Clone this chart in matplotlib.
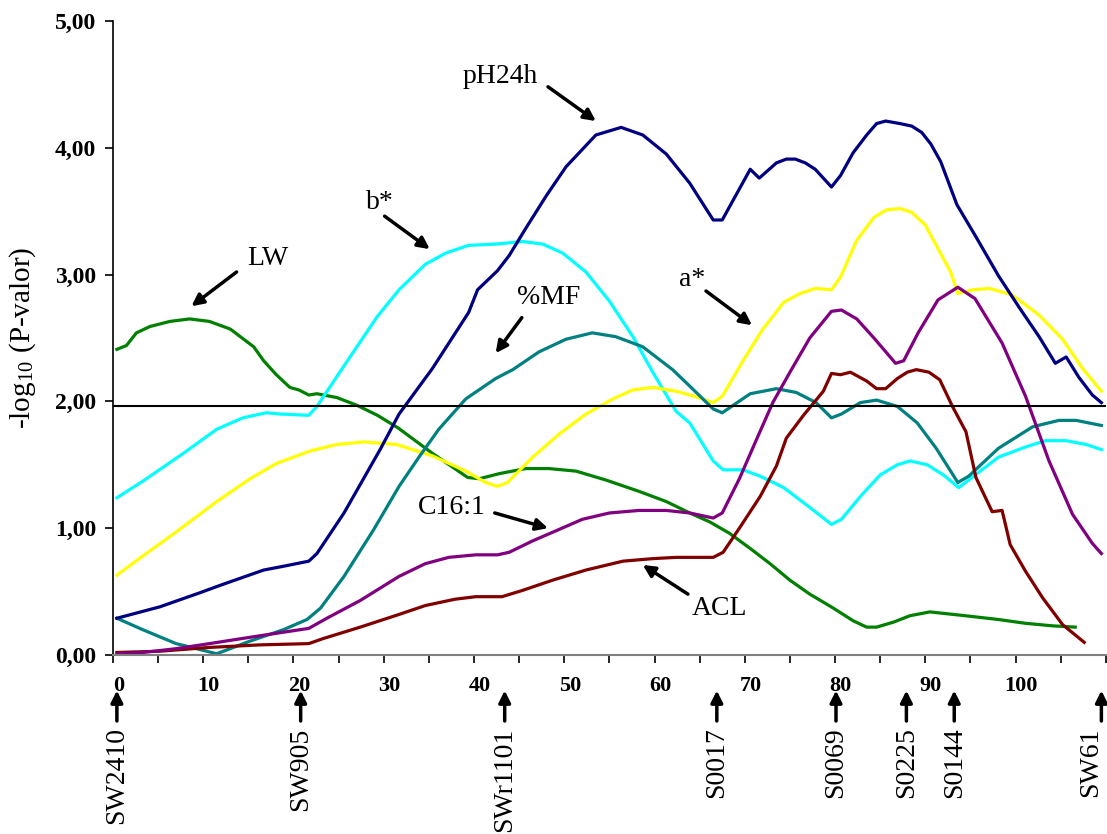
#!/usr/bin/env python3
# QTL profiles along the chromosome: -log10(P) for each trait vs position (cM)

import matplotlib.pyplot as plt
from matplotlib.ticker import MultipleLocator, FuncFormatter
from matplotlib.transforms import ScaledTranslation

plt.rcParams['font.family'] = 'Liberation Serif'
plt.rcParams['mathtext.fontset'] = 'stix'

# Trait profiles: position [cM], -log10(P)
ph24h_x = [0.44, 5.2, 9.6, 11.9, 16.7, 18.9, 21.7, 22.6, 25.6, 29.6, 31.7, 35.4, 39.4, 40.4,
           42.6, 43.9, 45.7, 48.0, 50.2, 53.5, 56.3, 58.7, 61.3, 63.9, 66.5, 67.5, 70.6,
           71.6, 73.5, 74.6, 75.6, 76.7, 77.8, 79.6, 80.6, 82.0, 83.5, 84.6, 85.6, 87.2,
           88.5, 89.6, 90.6, 91.7, 93.5, 95.5, 98.1, 100.4, 102.6, 104.4, 105.6, 107.0,
           108.5, 109.5]
ph24h_y = [0.29, 0.38, 0.49, 0.55, 0.67, 0.70, 0.74, 0.80, 1.12, 1.62, 1.90, 2.26, 2.70, 2.88,
           3.03, 3.15, 3.36, 3.62, 3.85, 4.10, 4.16, 4.10, 3.95, 3.72, 3.43, 3.43, 3.83,
           3.76, 3.88, 3.91, 3.91, 3.88, 3.83, 3.69, 3.78, 3.96, 4.10, 4.19, 4.21, 4.19,
           4.17, 4.12, 4.03, 3.89, 3.55, 3.31, 2.99, 2.74, 2.51, 2.30, 2.35, 2.19,
           2.05, 1.99]

bstar_x = [0.44, 3.3, 7.8, 11.5, 14.4, 17.0, 18.5, 21.7, 22.6, 25.6, 29.3, 31.7, 34.6, 36.9,
           39.4, 42.4, 45.4, 47.6, 49.8, 52.4, 55.0, 57.6, 59.8, 62.4, 63.9, 66.5, 67.6,
           69.8, 71.7, 74.3, 76.9, 79.6, 80.7, 82.8, 85.0, 86.9, 88.3, 90.2, 92.0, 93.7,
           94.8, 98.1, 101.1, 103.3, 105.6, 107.8, 109.5]
bstar_y = [1.24, 1.37, 1.59, 1.78, 1.87, 1.91, 1.90, 1.89, 1.96, 2.28, 2.67, 2.88, 3.08, 3.17,
           3.23, 3.24, 3.26, 3.24, 3.17, 3.02, 2.79, 2.51, 2.23, 1.92, 1.83, 1.53, 1.46,
           1.46, 1.41, 1.32, 1.18, 1.03, 1.07, 1.25, 1.42, 1.50, 1.53, 1.50, 1.42, 1.32,
           1.38, 1.56, 1.64, 1.69, 1.69, 1.66, 1.62]

lw_x = [0.44, 1.5, 2.6, 4.1, 6.3, 8.5, 10.7, 13.0, 15.6, 16.7, 18.1, 19.6, 20.6, 21.7, 22.6,
        24.8, 27.0, 29.3, 31.6, 35.4, 39.3, 40.6, 42.8, 45.7, 48.3, 51.3, 54.6, 58.3, 61.3,
        63.9, 66.1, 68.3, 70.6, 72.8, 75.0, 77.2, 79.8, 82.0, 83.5, 84.6, 86.5, 88.3, 90.5,
        94.4, 98.1, 101.1, 104.1, 106.6]
lw_y = [2.41, 2.44, 2.54, 2.59, 2.63, 2.65, 2.63, 2.57, 2.43, 2.32, 2.21, 2.11, 2.09, 2.05, 2.06,
        2.03, 1.97, 1.89, 1.79, 1.59, 1.40, 1.39, 1.43, 1.47, 1.47, 1.45, 1.38, 1.29, 1.21,
        1.12, 1.05, 0.96, 0.84, 0.72, 0.59, 0.48, 0.37, 0.27, 0.22, 0.22, 0.26, 0.31, 0.34,
        0.31, 0.28, 0.25, 0.23, 0.22]

mf_x = [0.44, 3.3, 7.0, 11.5, 15.2, 18.9, 21.5, 23.0, 25.6, 28.9, 31.7, 33.9, 36.1, 39.1, 42.4,
        44.3, 47.2, 50.2, 53.1, 55.7, 58.7, 62.0, 63.9, 66.5, 67.5, 70.6, 73.5, 75.7, 77.9,
        79.6, 80.7, 82.8, 84.6, 86.9, 89.1, 91.2, 93.6, 94.8, 98.1, 101.9, 104.8, 106.7, 109.5]
mf_y = [0.29, 0.20, 0.09, 0.01, 0.11, 0.20, 0.28, 0.37, 0.62, 0.99, 1.33, 1.56, 1.78, 2.02, 2.18,
        2.25, 2.39, 2.49, 2.54, 2.51, 2.43, 2.25, 2.12, 1.94, 1.91, 2.06, 2.10, 2.07, 1.99,
        1.87, 1.90, 1.99, 2.01, 1.96, 1.83, 1.63, 1.36, 1.41, 1.63, 1.80, 1.85, 1.85, 1.81]

astar_x = [0.44, 3.3, 7.0, 11.5, 15.2, 18.1, 21.9, 24.8, 27.8, 31.4, 35.4, 39.1, 41.3, 42.6,
           43.7, 46.5, 49.4, 52.4, 55.4, 57.6, 59.8, 62.4, 64.4, 66.5, 67.5, 69.8, 72.0,
           74.3, 76.1, 77.8, 79.6, 80.6, 82.4, 84.3, 85.7, 87.2, 88.5, 90.0, 91.5, 92.8,
           93.6, 95.3, 97.1, 99.6, 102.6, 105.2, 107.4, 109.5]
astar_y = [0.63, 0.78, 0.97, 1.21, 1.39, 1.51, 1.61, 1.66, 1.68, 1.66, 1.57, 1.45, 1.36, 1.33,
           1.36, 1.56, 1.74, 1.90, 2.02, 2.09, 2.11, 2.08, 2.04, 1.99, 2.04, 2.32, 2.57,
           2.78, 2.85, 2.89, 2.88, 2.98, 3.27, 3.45, 3.51, 3.52, 3.49, 3.39, 3.19, 3.02,
           2.85, 2.88, 2.89, 2.84, 2.68, 2.49, 2.26, 2.08]

c161_x = [0.44, 3.3, 7.0, 10.7, 15.2, 18.9, 21.7, 23.7, 27.4, 31.7, 34.6, 37.2, 40.2, 42.6,
          43.9, 46.5, 49.1, 52.0, 55.0, 58.3, 61.3, 63.9, 66.5, 67.5, 69.4, 71.3, 73.1,
          75.0, 77.2, 79.6, 80.7, 82.4, 84.3, 86.7, 87.6, 89.2, 91.4, 93.6, 95.5, 98.5,
          101.1, 103.7, 106.3, 108.5, 109.5]
c161_y = [0.01, 0.02, 0.05, 0.09, 0.14, 0.18, 0.21, 0.29, 0.43, 0.62, 0.72, 0.77, 0.79, 0.79,
          0.81, 0.90, 0.98, 1.07, 1.12, 1.14, 1.14, 1.12, 1.08, 1.12, 1.39, 1.70, 1.99,
          2.23, 2.50, 2.71, 2.72, 2.65, 2.50, 2.30, 2.32, 2.54, 2.80, 2.90, 2.81, 2.46,
          2.04, 1.53, 1.11, 0.88, 0.80]

acl_x = [0.44, 5.2, 10.7, 16.3, 21.7, 23.3, 27.4, 31.7, 34.6, 37.9, 40.2, 43.1, 45.4, 48.7,
         52.4, 56.5, 59.8, 62.4, 66.5, 67.6, 69.4, 71.7, 73.5, 74.6, 76.5, 78.7, 79.6,
         80.6, 81.7, 83.5, 84.6, 85.6, 86.9, 88.0, 89.0, 90.4, 91.6, 93.0, 94.5, 95.6,
         97.4, 98.5, 99.4, 101.1, 103.0, 105.2, 107.6]
acl_y = [0.02, 0.03, 0.06, 0.08, 0.09, 0.13, 0.22, 0.32, 0.39, 0.44, 0.46, 0.46, 0.51, 0.59,
         0.67, 0.74, 0.76, 0.77, 0.77, 0.81, 1.00, 1.25, 1.49, 1.71, 1.89, 2.08, 2.22,
         2.21, 2.23, 2.16, 2.10, 2.10, 2.18, 2.23, 2.25, 2.23, 2.17, 1.96, 1.76, 1.40,
         1.13, 1.14, 0.87, 0.66, 0.45, 0.24, 0.10]

threshold = 1.96

# Marker positions along the chromosome
markers = ["SW2410", "SW905", "SWr1101", "S0017", "S0069", "S0225", "S0144", "SW61"]
marker_pos = [0.44, 20.8, 43.4, 66.9, 80.1, 87.9, 93.2, 109.5]

fig = plt.figure(figsize=(11.07, 8.34), dpi=100)
ax = fig.add_axes([0.102, 0.2146, 0.897, 0.7604])

ax.plot(lw_x, lw_y, color='#008000', lw=2.3)
ax.plot(bstar_x, bstar_y, color='#00FFFF', lw=2.3)
ax.plot(astar_x, astar_y, color='#FFFF00', lw=2.3)
ax.plot(mf_x, mf_y, color='#008080', lw=2.3)
ax.plot(acl_x, acl_y, color='#800000', lw=2.3)
ax.plot(c161_x, c161_y, color='#800080', lw=2.3)
ax.plot(ph24h_x, ph24h_y, color='#000080', lw=2.3)
ax.axhline(threshold, color='black', lw=1.5)

ax.set_xlim(0, 110)
ax.set_ylim(0, 5)
ax.spines['top'].set_visible(False)
ax.spines['right'].set_visible(False)
ax.spines['left'].set_linewidth(1.2)
ax.spines['bottom'].set_color('#808080')
ax.spines['bottom'].set_linewidth(1.5)

ax.yaxis.set_major_locator(MultipleLocator(1))
ax.yaxis.set_major_formatter(FuncFormatter(lambda v, p: f"{v:.2f}".replace('.', ',')))
ax.xaxis.set_minor_locator(MultipleLocator(5))
ax.set_xticks(range(0, 101, 10))
ax.tick_params(axis='y', direction='out', length=6, width=1.2, pad=6, labelsize=17)
ax.tick_params(axis='x', which='both', direction='out', length=6, width=1.2, pad=9, labelsize=16)
for lab in ax.get_yticklabels() + ax.get_xticklabels():
    lab.set_fontweight('bold')
for lab in ax.get_xticklabels():
    lab.set_transform(lab.get_transform() + ScaledTranslation(4 / 72, 0, fig.dpi_scale_trans))

ax.set_ylabel(r'-log$_{\mathregular{10}}$ (P-valor)', fontsize=21, labelpad=12)

# trait labels with pointer arrows
arrow_kw = dict(arrowstyle='-|>,head_length=0.7,head_width=0.35', lw=2.5, color='black',
                shrinkA=0, shrinkB=0)
trait_labels = [
    ("pH24h", (42.9, 4.56), (48.2, 4.48), (53.5, 4.21)),
    ("b*", (29.6, 3.57), (30.1, 3.46), (35.1, 3.20)),
    ("LW", (17.2, 3.13), (13.7, 3.02), (8.7, 2.75)),
    ("%MF", (48.3, 2.82), (45.3, 2.66), (42.4, 2.38)),
    ("a*", (64.2, 2.96), (65.7, 2.87), (70.8, 2.60)),
    ("C16:1", (37.5, 1.16), (42.3, 1.12), (48.2, 1.00)),
    ("ACL", (67.2, 0.37), (63.7, 0.48), (58.7, 0.71)),
]
for name, txt, tail, head in trait_labels:
    ax.text(txt[0], txt[1], name, fontsize=20, ha='center', va='center')
    ax.annotate("", xy=head, xytext=tail, arrowprops=arrow_kw)

# marker names under the axis (last one pulled in so it stays on the canvas)
for name, pos in zip(markers, marker_pos):
    ax.annotate("", xy=(pos, -0.28), xytext=(pos, -0.52), arrowprops=arrow_kw,
                annotation_clip=False)
    ax.text(min(pos, 108.3), -0.57, name, rotation=90, ha='center', va='top', fontsize=20,
            clip_on=False)

plt.savefig('out.png', dpi=100)
